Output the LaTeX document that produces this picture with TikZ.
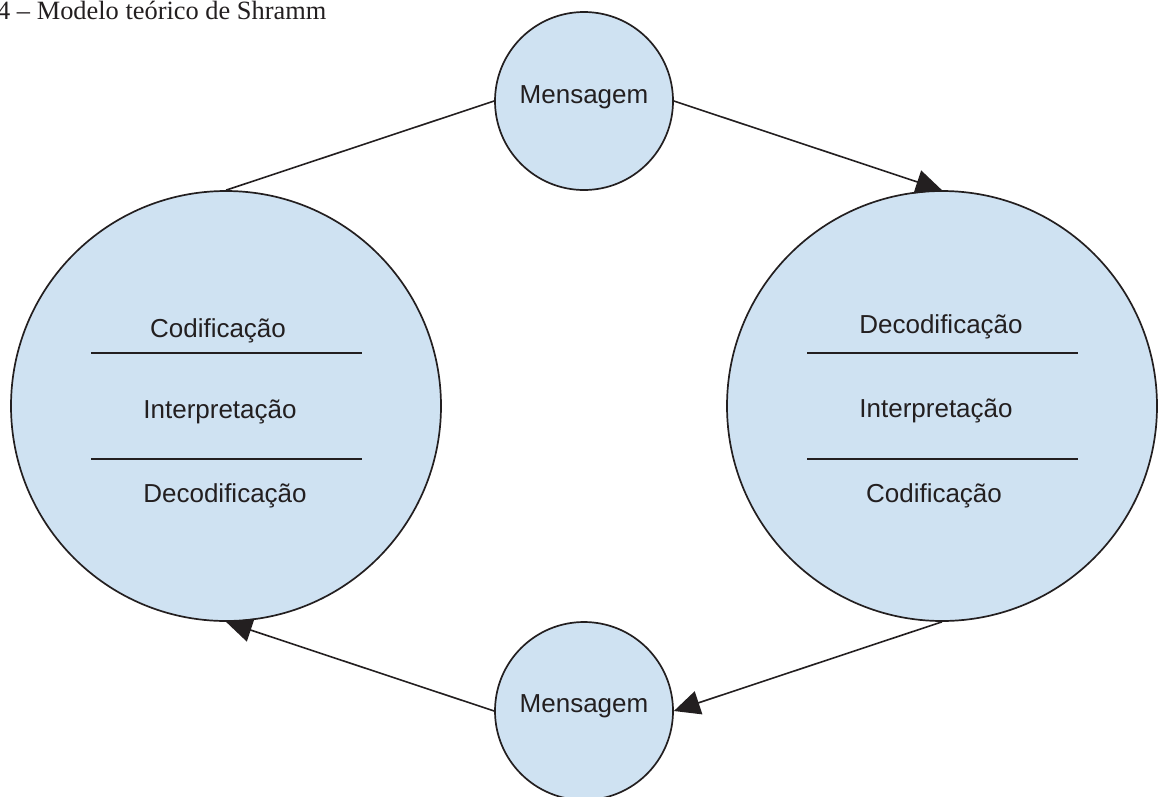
\documentclass[tikz,border=0pt]{standalone}
\usepackage{fontspec}
\setmainfont{Liberation Serif}
\newfontfamily\arialf{Liberation Sans}
\usetikzlibrary{arrows.meta}
\definecolor{cfill}{RGB}{207,226,242}
\definecolor{cline}{RGB}{35,31,32}
\begin{document}
\begin{tikzpicture}[x=1pt,y=-1pt,
  bubble/.style={circle, draw=cline, fill=cfill, line width=1.7pt, inner sep=0pt},
  lbl/.style={font=\arialf\fontsize{26}{30}\selectfont, text=cline, anchor=base, inner sep=0pt},
  sep/.style={draw=cline, line width=1.7pt},
  conn/.style={draw=cline, line width=1.6pt},
  arr/.style={conn, -{Triangle[length=26pt,width=24pt]}}]
\useasboundingbox (0,0) rectangle (1161,796);

\node[font=\fontsize{26.4}{30}\selectfont, anchor=base west, inner sep=0pt, text=cline] (title) at (-3,19) {4 – Modelo teórico de Shramm};

\node[bubble, minimum size=430pt] (L) at (226,406) {};
\node[bubble, minimum size=430pt] (R) at (942,406) {};
\node[bubble, minimum size=178pt] (T) at (584,101) {};
\node[bubble, minimum size=178pt] (B) at (584,711) {};

\draw[conn] (L.north) -- (T.west);
\draw[arr] (T.east) -- (R.north);
\draw[arr] (R.south) -- (B.east);
\draw[arr] (B.west) -- (L.south);

\node[lbl] (tmsg) at (584,103) {Mensagem};
\node[lbl] (bmsg) at (584,712) {Mensagem};

\node[lbl] (lcod) at (218,337) {Codificação};
\node[lbl] (lint) at (220,418) {Interpretação};
\node[lbl] (ldec) at (225,502) {Decodificação};
\draw[sep] (91,353) -- (362,353);
\draw[sep] (91,459) -- (362,459);

\node[lbl] (rdec) at (941,333) {Decodificação};
\node[lbl] (rint) at (936,417) {Interpretação};
\node[lbl] (rcod) at (934,502) {Codificação};
\draw[sep] (807,353) -- (1078,353);
\draw[sep] (807,459) -- (1078,459);
\end{tikzpicture}
\end{document}
